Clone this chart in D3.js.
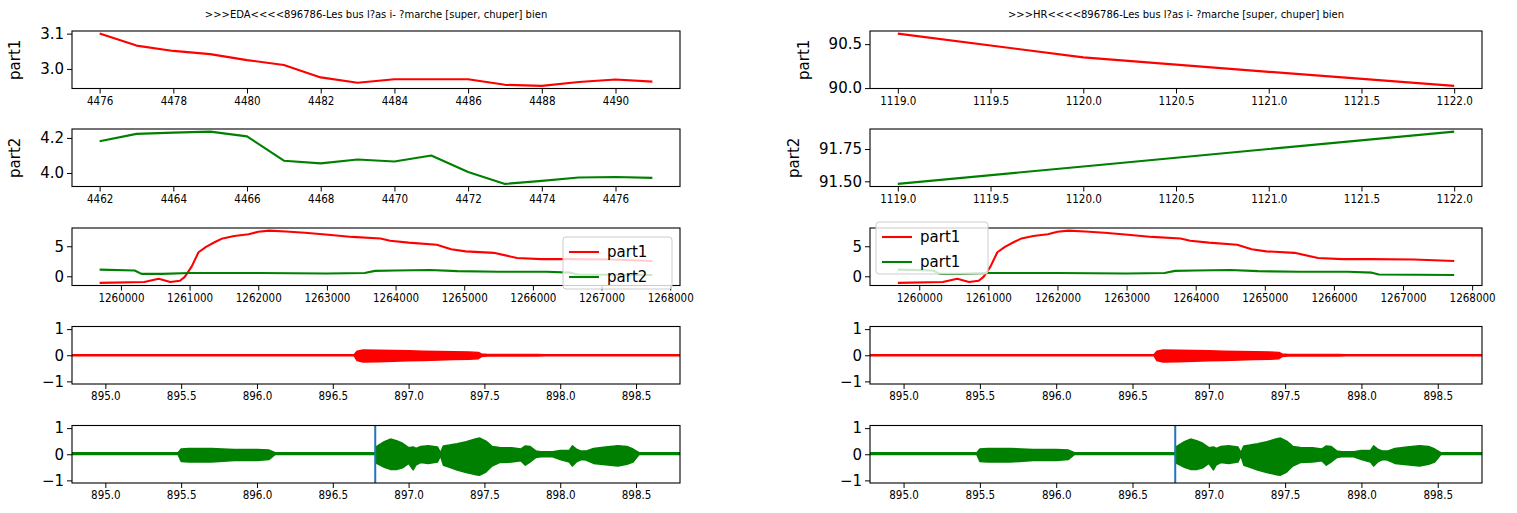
<!DOCTYPE html>
<html><head><meta charset="utf-8">
<script src="https://cdn.jsdelivr.net/npm/d3@7"></script>
<style>body{margin:0;background:#fff}svg{display:block}</style>
</head><body>
<svg id="chart" width="1517" height="513"></svg>
<script>
// ---------------- DATA ----------------
const titleEDA = ">>>EDA<<<<896786-Les bus l?as i- ?marche [super, chuper] bien";
const titleHR  = ">>>HR<<<<896786-Les bus l?as i- ?marche [super, chuper] bien";

// EDA part1 / part2
const edaP1X = [4476,4477,4478,4479,4480,4481,4482,4483,4484,4485,4486,4487,4488,4489,4490,4491];
const edaP1Y = [3.100,3.066,3.051,3.042,3.025,3.011,2.976,2.961,2.971,2.971,2.971,2.955,2.952,2.963,2.970,2.964];
const edaP1XTicks = [4476,4478,4480,4482,4484,4486,4488,4490];
const edaP1YTicks = [3.0,3.1];

const edaP2X = [4462,4463,4464,4465,4466,4467,4468,4469,4470,4471,4472,4473,4474,4475,4476,4477];
const edaP2Y = [4.181,4.223,4.230,4.236,4.209,4.070,4.055,4.077,4.066,4.100,4.006,3.938,3.955,3.974,3.977,3.972];
const edaP2XTicks = [4462,4464,4466,4468,4470,4472,4474,4476];
const edaP2YTicks = [4.0,4.2];

// HR part1 / part2
const hrP1X = [1119,1120,1121,1122];
const hrP1Y = [90.62,90.35,90.185,90.025];
const hrP2X = [1119,1120,1121,1122];
const hrP2Y = [91.48,91.615,91.75,91.885];
const hrXTicks = [1119.0,1119.5,1120.0,1120.5,1121.0,1121.5,1122.0];
const hrP1YTicks = [90.0,90.5];
const hrP2YTicks = [91.50,91.75];

// Overlay (row 3)
const ovRedT = [1259690,1260340,1260550,1260720,1260860,1260930,1261030,1261130,1261240,1261370,1261480,1261650,1261860,1262000,1262160,1262400,1262680,1263020,1263370,1263780,1263920,1264190,1264600,1264810,1265020,1265430,1265770,1266120,1266530,1267150,1267740];
const ovRedV = [-1.1,-0.95,-0.4,-0.95,-0.75,-0.1,1.6,4.0,4.9,5.7,6.3,6.7,7.0,7.4,7.6,7.45,7.25,6.9,6.55,6.3,5.9,5.6,5.25,4.5,4.15,3.9,3.05,2.85,2.85,2.8,2.55];
const ovGreenT = [1259690,1260200,1260300,1260600,1261000,1262000,1263000,1263550,1263700,1264000,1264500,1264900,1265500,1266200,1266550,1266650,1267740];
const ovGreenV = [1.1,0.95,0.4,0.4,0.55,0.55,0.45,0.55,0.9,0.95,1.05,0.85,0.75,0.75,0.6,0.3,0.2];
const ovXTicks = [1260000,1261000,1262000,1263000,1264000,1265000,1266000,1267000,1268000];
const ovYTicks = [0,5];
const ovLegendLeft = ["part1","part2"];
const ovLegendRight = ["part1","part1"];

// Audio envelopes (rows 4, 5)
const audRedT  = [894.78,895.45,895.47,895.95,896.0,896.64,896.66,896.70,896.80,896.90,897.00,897.10,897.20,897.30,897.40,897.46,897.48,897.52,897.85,897.9,898.79];
const audRedUp = [0.015,0.015,0.02,0.02,0.015,0.015,0.15,0.2,0.19,0.18,0.17,0.15,0.14,0.13,0.12,0.11,0.05,0.025,0.025,0.015,0.015];
const audRedLo = [-0.015,-0.015,-0.02,-0.02,-0.015,-0.015,-0.2,-0.26,-0.25,-0.23,-0.21,-0.2,-0.18,-0.16,-0.15,-0.13,-0.05,-0.025,-0.025,-0.015,-0.015];

const audGreenT  = [894.78,895.48,895.50,895.55,895.70,895.85,896.00,896.08,896.12,896.78,896.79,896.84,896.88,896.92,896.96,897.00,897.03,897.05,897.08,897.13,897.19,897.21,897.23,897.27,897.32,897.38,897.44,897.47,897.51,897.55,897.60,897.68,897.74,897.77,897.80,897.84,897.87,897.95,898.00,898.06,898.08,898.11,898.14,898.17,898.22,898.30,898.38,898.44,898.48,898.52,898.79];
const audGreenUp = [0.06,0.06,0.2,0.22,0.22,0.18,0.18,0.16,0.06,0.06,0.3,0.48,0.58,0.52,0.42,0.25,0.28,0.22,0.3,0.33,0.28,0.06,0.32,0.35,0.4,0.48,0.58,0.62,0.5,0.3,0.26,0.25,0.2,0.32,0.3,0.12,0.1,0.1,0.14,0.15,0.32,0.18,0.12,0.12,0.22,0.28,0.33,0.3,0.2,0.06,0.06];
const audGreenLo = [-0.01,-0.01,-0.28,-0.3,-0.3,-0.24,-0.24,-0.2,-0.01,-0.01,-0.35,-0.5,-0.58,-0.58,-0.52,-0.35,-0.6,-0.4,-0.32,-0.35,-0.3,-0.06,-0.42,-0.5,-0.6,-0.7,-0.78,-0.8,-0.68,-0.45,-0.32,-0.3,-0.25,-0.42,-0.3,-0.12,-0.1,-0.1,-0.2,-0.3,-0.45,-0.28,-0.2,-0.22,-0.35,-0.4,-0.45,-0.38,-0.3,-0.01,-0.01];
const audXTicks = [895.0,895.5,896.0,896.5,897.0,897.5,898.0,898.5];
const audYTicks = [-1,0,1];
const audYLim = [-1.1,1.1];
const markerTime = [896.78];

// ---------------- LAYOUT ----------------
const RED = "#ff0000", GREEN = "#008000", BLUE = "#1f77b4";
const FONT = "'DejaVu Sans', sans-serif";
const cols = [{x0:72, x1:680}, {x0:870, x1:1482}];
const rowTop = [31, 129, 228, 326.5, 425.5];
const rowH = 57.5;
const svg = d3.select("#chart");
let clipId = 0;

function padExt(arrs){
  const all = [].concat(...arrs);
  const [a,b] = d3.extent(all);
  const r = b - a;
  return [a - 0.05*r, b + 0.05*r];
}

function panel(o){
  const c = cols[o.col], top = rowTop[o.row], bot = top + rowH;
  const x = d3.scaleLinear().domain(o.xDomain).range([c.x0, c.x1]);
  const y = d3.scaleLinear().domain(o.yDomain).range([bot, top]);
  const g = svg.append("g");
  const id = "clip" + (clipId++);
  g.append("clipPath").attr("id", id).append("rect")
    .attr("x", c.x0).attr("y", top).attr("width", c.x1 - c.x0).attr("height", rowH);
  const plot = g.append("g").attr("clip-path", `url(#${id})`);

  (o.areas || []).forEach(a => {
    const d = a.t.map((t,i) => ({t, u:a.up[i], l:a.lo[i]}));
    plot.append("path").datum(d)
      .attr("d", d3.area().x(p => x(p.t)).y0(p => y(p.l)).y1(p => y(p.u)))
      .attr("fill", a.color).attr("stroke", a.color).attr("stroke-width", 1.5)
      .attr("stroke-linejoin", "round");
  });
  (o.series || []).forEach(s => {
    const d = s.x.map((v,i) => [v, s.y[i]]);
    plot.append("path").datum(d)
      .attr("d", d3.line().x(p => x(p[0])).y(p => y(p[1])))
      .attr("fill", "none").attr("stroke", s.color).attr("stroke-width", 2.1)
      .attr("stroke-linejoin", "round").attr("stroke-linecap", "butt");
  });
  (o.vlines || []).forEach(v => {
    plot.append("line").attr("x1", x(v)).attr("x2", x(v)).attr("y1", top).attr("y2", bot)
      .attr("stroke", BLUE).attr("stroke-width", 2);
  });

  // frame
  g.append("rect").attr("x", c.x0).attr("y", top).attr("width", c.x1 - c.x0).attr("height", rowH)
    .attr("fill", "none").attr("stroke", "#000").attr("stroke-width", 1.1);

  // axes
  const xa = g.append("g").attr("transform", `translate(0,${bot})`)
    .call(d3.axisBottom(x).tickValues(o.xTicks).tickFormat(o.xFmt).tickSize(5).tickSizeOuter(0).tickPadding(3));
  xa.select(".domain").remove();
  xa.selectAll("text").attr("font-family", FONT).attr("font-size", 11.5).attr("fill", "#000")
    .style("font-stretch", "condensed");
  xa.selectAll("line").attr("stroke", "#000").attr("stroke-width", 1);

  const ya = g.append("g").attr("transform", `translate(${c.x0},0)`)
    .call(d3.axisLeft(y).tickValues(o.yTicks).tickFormat(o.yFmt).tickSize(5).tickSizeOuter(0).tickPadding(3));
  ya.select(".domain").remove();
  ya.selectAll("text").attr("font-family", FONT).attr("font-size", 15).attr("fill", "#000");
  ya.selectAll("line").attr("stroke", "#000").attr("stroke-width", 1);

  if (o.ylabel){
    const bb = ya.node().getBBox();
    const lx = c.x0 + bb.x - 20;
    g.append("text").attr("transform", `translate(${lx},${(top+bot)/2}) rotate(-90)`)
      .attr("text-anchor", "middle").attr("font-family", FONT).attr("font-size", 15)
      .attr("fill", "#000").text(o.ylabel);
  }
  if (o.title){
    g.append("text").attr("x", (c.x0 + c.x1)/2).attr("y", 18).attr("text-anchor", "middle")
      .attr("font-family", FONT).attr("font-size", 10)
      .attr("fill", "#000").text(o.title);
  }
  if (o.legend){
    const L = o.legend, fs = 15;
    const lg = svg.append("g");
    lg.append("rect").attr("x", L.x).attr("y", L.y).attr("rx", 3).attr("ry", 3)
      .attr("width", L.w).attr("height", 52)
      .attr("fill", "#fff").attr("fill-opacity", 0.8).attr("stroke", "#cccccc").attr("stroke-width", 1);
    L.labels.forEach((lab, i) => {
      const cy = L.y + 15 + i * 25;
      lg.append("line").attr("x1", L.x + 6).attr("x2", L.x + 36).attr("y1", cy).attr("y2", cy)
        .attr("stroke", L.colors[i]).attr("stroke-width", 2.1);
      lg.append("text").attr("x", L.x + 44).attr("y", cy).attr("dy", "0.35em")
        .attr("font-family", FONT).attr("font-size", fs).attr("fill", "#000").text(lab);
    });
  }
}

const f1 = d3.format(".1f"), f2 = d3.format(".2f"), fd = d3.format("d");

// Left column
panel({col:0,row:0,xDomain:padExt([edaP1X]),yDomain:padExt([edaP1Y]),xTicks:edaP1XTicks,xFmt:fd,
  yTicks:edaP1YTicks,yFmt:f1,series:[{x:edaP1X,y:edaP1Y,color:RED}],ylabel:"part1",title:titleEDA});
panel({col:0,row:1,xDomain:padExt([edaP2X]),yDomain:padExt([edaP2Y]),xTicks:edaP2XTicks,xFmt:fd,
  yTicks:edaP2YTicks,yFmt:f1,series:[{x:edaP2X,y:edaP2Y,color:GREEN}],ylabel:"part2"});
panel({col:0,row:2,xDomain:padExt([ovRedT,ovGreenT]),yDomain:padExt([ovRedV,ovGreenV]),xTicks:ovXTicks,xFmt:fd,
  yTicks:ovYTicks,yFmt:fd,series:[{x:ovRedT,y:ovRedV,color:RED},{x:ovGreenT,y:ovGreenV,color:GREEN}],
  legend:{x:563,y:237,w:109,labels:ovLegendLeft,colors:[RED,GREEN]}});
panel({col:0,row:3,xDomain:d3.extent(audRedT),yDomain:audYLim,xTicks:audXTicks,xFmt:f1,
  yTicks:audYTicks,yFmt:fd,areas:[{t:audRedT,up:audRedUp,lo:audRedLo,color:RED}]});
panel({col:0,row:4,xDomain:d3.extent(audGreenT),yDomain:audYLim,xTicks:audXTicks,xFmt:f1,
  yTicks:audYTicks,yFmt:fd,areas:[{t:audGreenT,up:audGreenUp,lo:audGreenLo,color:GREEN}],vlines:markerTime});

// Right column
panel({col:1,row:0,xDomain:padExt([hrP1X]),yDomain:padExt([hrP1Y]),xTicks:hrXTicks,xFmt:f1,
  yTicks:hrP1YTicks,yFmt:f1,series:[{x:hrP1X,y:hrP1Y,color:RED}],ylabel:"part1",title:titleHR});
panel({col:1,row:1,xDomain:padExt([hrP2X]),yDomain:padExt([hrP2Y]),xTicks:hrXTicks,xFmt:f1,
  yTicks:hrP2YTicks,yFmt:f2,series:[{x:hrP2X,y:hrP2Y,color:GREEN}],ylabel:"part2"});
panel({col:1,row:2,xDomain:padExt([ovRedT,ovGreenT]),yDomain:padExt([ovRedV,ovGreenV]),xTicks:ovXTicks,xFmt:fd,
  yTicks:ovYTicks,yFmt:fd,series:[{x:ovRedT,y:ovRedV,color:RED},{x:ovGreenT,y:ovGreenV,color:GREEN}],
  legend:{x:876,y:222,w:112,labels:ovLegendRight,colors:[RED,GREEN]}});
panel({col:1,row:3,xDomain:d3.extent(audRedT),yDomain:audYLim,xTicks:audXTicks,xFmt:f1,
  yTicks:audYTicks,yFmt:fd,areas:[{t:audRedT,up:audRedUp,lo:audRedLo,color:RED}]});
panel({col:1,row:4,xDomain:d3.extent(audGreenT),yDomain:audYLim,xTicks:audXTicks,xFmt:f1,
  yTicks:audYTicks,yFmt:fd,areas:[{t:audGreenT,up:audGreenUp,lo:audGreenLo,color:GREEN}],vlines:markerTime});
</script>
</body></html>
